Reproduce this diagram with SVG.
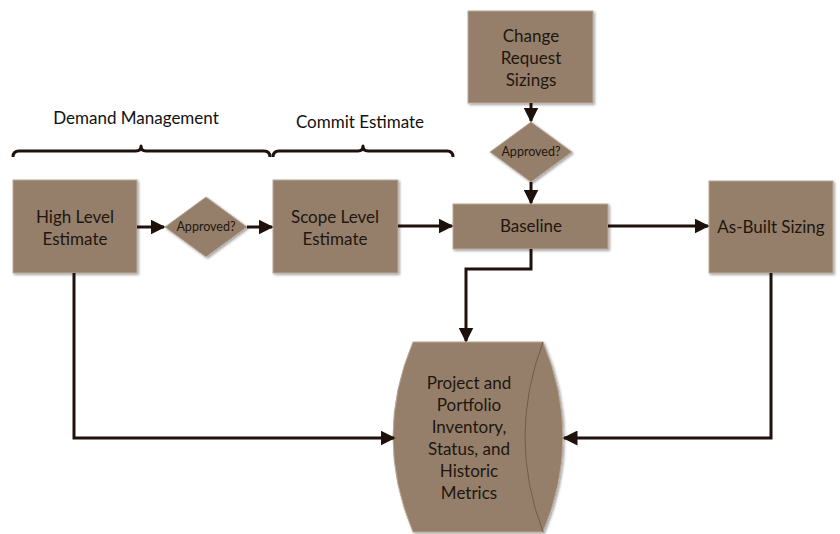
<svg xmlns="http://www.w3.org/2000/svg" width="840" height="534" viewBox="0 0 840 534">
<defs>
<filter id="sh" x="-10%" y="-10%" width="120%" height="120%">
<feDropShadow dx="1.5" dy="1.5" stdDeviation="1" flood-color="#000" flood-opacity="0.35"/>
</filter>
<marker id="ah" viewBox="0 0 10 10" refX="9" refY="5" markerWidth="5" markerHeight="5" orient="auto" markerUnits="strokeWidth">
<path d="M0,0 L10,5 L0,10 z" fill="#1e100b"/>
</marker>
</defs>
<style>
.box{fill:#957f6b;stroke:#b9a898;stroke-width:1;filter:url(#sh)}
.t{font-family:Lato,"Open Sans",sans-serif;font-size:17px;fill:#21160f;text-anchor:middle}
.ts{font-family:Lato,"Open Sans",sans-serif;font-size:12.5px;fill:#21160f;text-anchor:middle}
.lbl{font-family:Lato,"Open Sans",sans-serif;font-size:17px;fill:#111;text-anchor:middle}
.c{fill:none;stroke:#1e100b;stroke-width:3}
.br{fill:none;stroke:#1e100b;stroke-width:3;stroke-linejoin:round}
</style>
<rect width="840" height="534" fill="#fff"/>

<g id="labels">
<text class="lbl" x="136" y="124">Demand Management</text>
<text class="lbl" x="360" y="128">Commit Estimate</text>
<path class="br" d="M13,157 Q13,151 19,151 L136,151 Q141,151 141,146 Q141,151 146,151 L264,151 Q270,151 270,157"/>
<path class="br" d="M273,157 Q273,151 279,151 L358,151 Q363,151 363,146 Q363,151 368,151 L447,151 Q453,151 453,157"/>
</g>

<g id="high-level">
<rect class="box" x="13" y="180" width="124" height="93"/>
<text class="t" x="75" y="223">High Level</text>
<text class="t" x="75" y="245">Estimate</text>
</g>

<g id="approved-1">
<polygon class="box" points="206,197 247,227 206,257 165,227"/>
<text class="ts" x="206" y="231">Approved?</text>
</g>

<g id="scope-level">
<rect class="box" x="273" y="180" width="125" height="93"/>
<text class="t" x="335" y="223">Scope Level</text>
<text class="t" x="335" y="245">Estimate</text>
</g>

<g id="change-request">
<rect class="box" x="468" y="11" width="125" height="92"/>
<text class="t" x="531" y="42">Change</text>
<text class="t" x="531" y="64">Request</text>
<text class="t" x="531" y="86">Sizings</text>
</g>

<g id="approved-2">
<polygon class="box" points="531,122 572,152 531,182 490,152"/>
<text class="ts" x="531" y="156">Approved?</text>
</g>

<g id="baseline">
<rect class="box" x="453" y="204" width="155" height="45"/>
<text class="t" x="531" y="232">Baseline</text>
</g>

<g id="as-built">
<rect class="box" x="709" y="181" width="124" height="92"/>
<text class="t" x="771" y="233">As-Built Sizing</text>
</g>

<g id="inventory">
<path class="box" d="M413,342 L543,342 Q583,437 543,532 L413,532 Q373,437 413,342 Z"/>
<path d="M543,342 Q507,437 543,532" fill="none" stroke="#6e5c4c" stroke-width="1"/>
<text class="t" x="469" y="389">Project and</text>
<text class="t" x="469" y="411">Portfolio</text>
<text class="t" x="469" y="433">Inventory,</text>
<text class="t" x="469" y="455">Status, and</text>
<text class="t" x="469" y="477">Historic</text>
<text class="t" x="469" y="499">Metrics</text>
</g>

<g id="connectors">
<path class="c" d="M137,227 L164,227" marker-end="url(#ah)"/>
<path class="c" d="M247,227 L272,227" marker-end="url(#ah)"/>
<path class="c" d="M398,226 L452,226" marker-end="url(#ah)"/>
<path class="c" d="M531,103 L531,121" marker-end="url(#ah)"/>
<path class="c" d="M531,182 L531,203" marker-end="url(#ah)"/>
<path class="c" d="M608,226 L708,226" marker-end="url(#ah)"/>
<path class="c" d="M531,249 L531,269 L466,269 L466,341" marker-end="url(#ah)"/>
<path class="c" d="M74,273 L74,438 L394,438" marker-end="url(#ah)"/>
<path class="c" d="M771,273 L771,438 L564,438" marker-end="url(#ah)"/>
</g>
</svg>
